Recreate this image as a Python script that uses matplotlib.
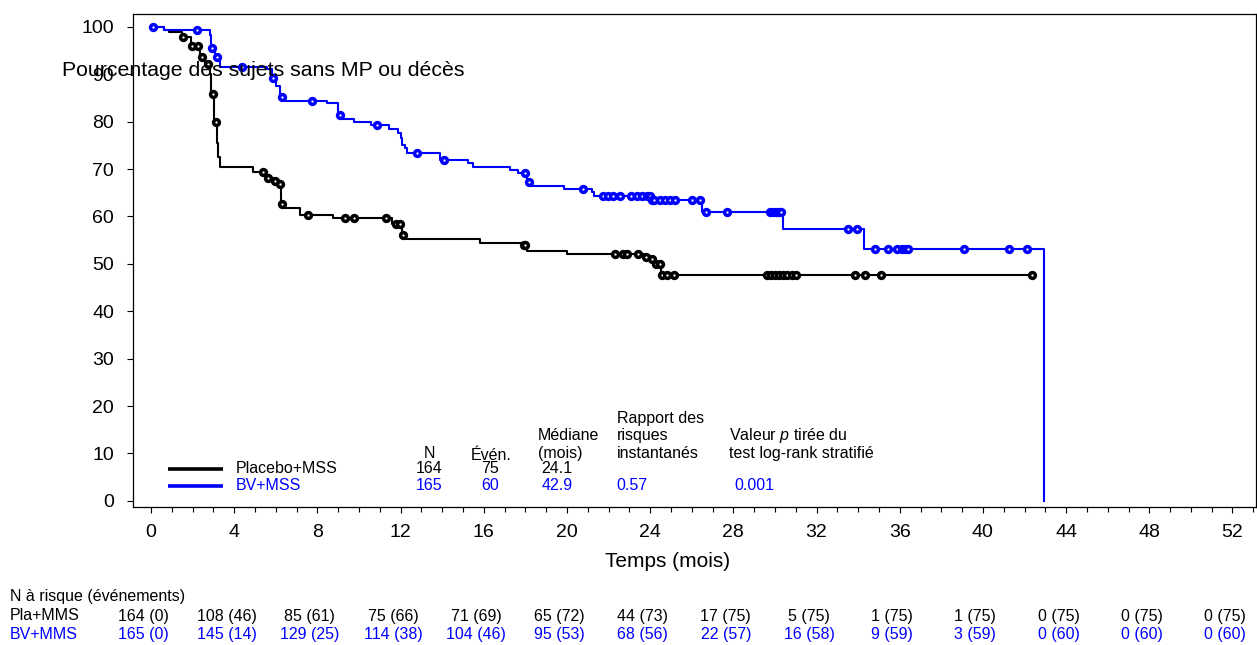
import numpy as np
import matplotlib as mpl
mpl.use("Agg")
import matplotlib.pyplot as plt
import matplotlib.transforms as mtransforms
from matplotlib.ticker import MultipleLocator

mpl.rcParams.update({
    "font.family": ["Liberation Sans", "DejaVu Sans"],
    "mathtext.fontset": "custom",
    "mathtext.rm": "Liberation Sans",
    "mathtext.it": "Liberation Sans:italic",
})

BLUE = "#0000FF"

# Placebo+MSS: Kaplan-Meier steps (months, %), end of follow-up, censored times
PLA_T = [0, 0.63, 0.87, 1.5, 1.9, 2.35, 2.6, 2.84, 2.9, 3.05, 3.16, 3.22, 3.3,
         4.92, 5.55, 5.9, 6.1, 6.27, 6.4, 7.16, 8.75, 11.6, 12.08, 12.2, 15.8,
         17.85, 18.1, 19.98, 23.7, 24.0, 24.2, 24.52]
PLA_S = [100, 99.4, 98.8, 97.9, 96.0, 93.7, 92.2, 90.0, 85.8, 79.9, 75.5, 72.5, 70.5,
         69.3, 68.1, 67.5, 66.8, 62.7, 61.8, 60.3, 59.6, 58.4, 56.0, 55.2, 54.3,
         53.9, 52.8, 52.0, 51.4, 51.1, 50.0, 47.6]
PLA_END = 42.34
PLA_CENS = [1.55, 1.96, 2.24, 2.44, 2.75, 2.97, 3.13, 5.4, 5.64, 5.96, 6.2, 6.31,
            7.56, 9.33, 9.77, 11.3, 11.8, 11.97, 12.13, 17.93, 18.0, 22.3, 22.7,
            22.87, 23.43, 23.8, 24.07, 24.3, 24.47, 24.55, 24.8, 25.16, 29.6, 29.8,
            30.0, 30.2, 30.4, 30.6, 30.8, 31.0, 33.85, 34.33, 35.08, 42.34]

# BV+MSS
BV_T = [0, 0.63, 2.84, 2.9, 3.1, 3.3, 5.56, 5.8, 6.0, 6.2, 6.4, 8.45, 9.0, 9.2,
        9.76, 10.6, 11.46, 11.9, 12.0, 12.08, 12.2, 12.3, 13.9, 15.25, 15.5, 17.26,
        17.66, 18.1, 18.25, 19.86, 21.2, 21.3, 24.02, 26.47, 30.4, 34.26]
BV_S = [100, 99.4, 98.2, 95.6, 93.7, 91.5, 91.0, 89.1, 87.5, 85.2, 84.4, 83.9, 81.3, 80.6,
        79.9, 79.2, 78.4, 77.7, 76.5, 75.1, 74.4, 73.4, 72.0, 71.3, 70.4, 69.8,
        69.2, 67.2, 66.4, 65.8, 65.1, 64.4, 63.5, 61.0, 57.3, 53.2]
BV_END = 42.93
BV_CENS = [0.08, 2.23, 2.92, 3.17, 4.39, 5.88, 6.31, 7.75, 9.09, 10.85, 12.8, 14.1,
           18.0, 18.19, 20.75, 21.75, 21.99, 22.23, 22.55, 23.1, 23.35, 23.6, 23.83,
           23.99, 24.07, 24.2, 24.47, 24.7, 24.95, 25.2, 26.0, 26.4, 26.68, 27.7,
           29.76, 29.9, 30.05, 30.2, 30.3, 33.5, 33.96, 34.8, 35.43, 35.85, 36.09,
           36.25, 36.4, 39.07, 41.23, 42.13]

RISK_T = [0, 4, 8, 12, 16, 20, 24, 28, 32, 36, 40, 44, 48, 52]
RISK_PLA = ["164 (0)", "108 (46)", "85 (61)", "75 (66)", "71 (69)", "65 (72)", "44 (73)",
            "17 (75)", "5 (75)", "1 (75)", "1 (75)", "0 (75)", "0 (75)", "0 (75)"]
RISK_BV = ["165 (0)", "145 (14)", "129 (25)", "114 (38)", "104 (46)", "95 (53)", "68 (56)",
           "22 (57)", "16 (58)", "9 (59)", "3 (59)", "0 (60)", "0 (60)", "0 (60)"]

GROUPS = ["Placebo+MSS", "BV+MSS"]
N_TOT = ["164", "165"]
EVENTS = ["75", "60"]
MEDIANS = ["24.1", "42.9"]
HR = "0.57"
PVAL = "0.001"


def levels_at(times, surv, t):
    idx = np.searchsorted(np.asarray(times), np.asarray(t), side="right") - 1
    return np.asarray(surv)[idx]


def main():
    fig = plt.figure(figsize=(12.57, 6.45), dpi=100, facecolor="white")
    ax = fig.add_axes([133 / 1257, 138 / 645, 1123 / 1257, 493 / 645])

    # curves, black first so blue sits on top
    for T, S, end, cens, col, drop in ((PLA_T, PLA_S, PLA_END, PLA_CENS, "black", False),
                                       (BV_T, BV_S, BV_END, BV_CENS, BLUE, True)):
        xs = list(T) + [end]
        ys = list(S) + [S[-1]]
        if drop:
            xs.append(end)
            ys.append(0)
        ax.step(xs, ys, where="post", color=col, lw=1.5, zorder=2)
        ax.plot(cens, levels_at(T, S, cens), ls="none", marker="o", ms=4.2, mew=2.5,
                mec=col, mfc="white", zorder=3)

    ax.set_xlim(-0.865, 53.13)
    ax.set_ylim(-1.3, 102.7)
    ax.xaxis.set_major_locator(MultipleLocator(4))
    ax.xaxis.set_minor_locator(MultipleLocator(1))
    ax.yaxis.set_major_locator(MultipleLocator(10))
    ax.tick_params(which="major", direction="out", length=4.6, width=0.8, labelsize=14)
    ax.tick_params(axis="y", pad=9)
    ax.tick_params(axis="x", pad=7.5)
    ax.tick_params(which="minor", axis="x", direction="out", length=3.6, width=0.8)
    for sp in ax.spines.values():
        sp.set_linewidth(0.9)

    # legend block inside the axes
    fs = 11.5
    rows_y = [6.82, 3.23]
    for i, (col, g) in enumerate(zip(["black", BLUE], GROUPS)):
        y = rows_y[i]
        ax.plot([0.8, 3.45], [y, y], color=col, lw=2.6, solid_capstyle="butt")
        ax.text(4.06, y, g, color=col, fontsize=fs, va="center", ha="left")
        ax.text(13.37, y, N_TOT[i], color=col, fontsize=fs, va="center", ha="center")
        ax.text(16.3, y, EVENTS[i], color=col, fontsize=fs, va="center", ha="center")
        ax.text(19.52, y, MEDIANS[i], color=col, fontsize=fs, va="center", ha="center")
    ax.text(22.4, rows_y[1], HR, color=BLUE, fontsize=fs, va="center", ha="left")
    ax.text(28.03, rows_y[1], PVAL, color=BLUE, fontsize=fs, va="center", ha="left")

    ax.text(13.37, 10.0, "N", fontsize=fs, va="center", ha="center")
    ax.text(16.35, 9.6, "Évén.", fontsize=fs, va="center", ha="center")
    ax.text(18.6, 13.86, "Médiane", fontsize=fs, va="center", ha="left")
    ax.text(18.6, 10.0, "(mois)", fontsize=fs, va="center", ha="left")
    ax.text(22.4, 17.4, "Rapport des", fontsize=fs, va="center", ha="left")
    ax.text(22.4, 13.86, "risques", fontsize=fs, va="center", ha="left")
    ax.text(22.4, 10.0, "instantanés", fontsize=fs, va="center", ha="left")
    ax.text(27.79, 13.86, r"Valeur $\it{p}$ tirée du", fontsize=fs, va="center", ha="left")
    ax.text(27.79, 10.0, "test log-rank stratifié", fontsize=fs, va="center", ha="left")

    # axis titles
    fig.text(263.5 / 1257, 1 - 71 / 645, "Pourcentage des sujets sans MP ou décès",
             fontsize=15.3, ha="center", va="center")
    fig.text(668 / 1257, 1 - 561.7 / 645, "Temps (mois)", fontsize=15, ha="center", va="center")

    # number at risk table
    trans = mtransforms.blended_transform_factory(ax.transData, fig.transFigure)
    fig.text(10 / 1257, 1 - 596.7 / 645, "N à risque (événements)", fontsize=fs, va="center")
    fig.text(10 / 1257, 1 - 616 / 645, "Pla+MMS", fontsize=fs, va="center")
    fig.text(10 / 1257, 1 - 634.3 / 645, "BV+MMS", fontsize=fs, va="center", color=BLUE)
    for t, a, b in zip(RISK_T, RISK_PLA, RISK_BV):
        fig.text(t - 0.36, 1 - 616 / 645, a, fontsize=fs, ha="center", va="center", transform=trans)
        fig.text(t - 0.36, 1 - 634.3 / 645, b, fontsize=fs, ha="center", va="center",
                 transform=trans, color=BLUE)

    fig.savefig("out.png", dpi=100, facecolor="white")
    plt.close(fig)


if __name__ == "__main__":
    main()
